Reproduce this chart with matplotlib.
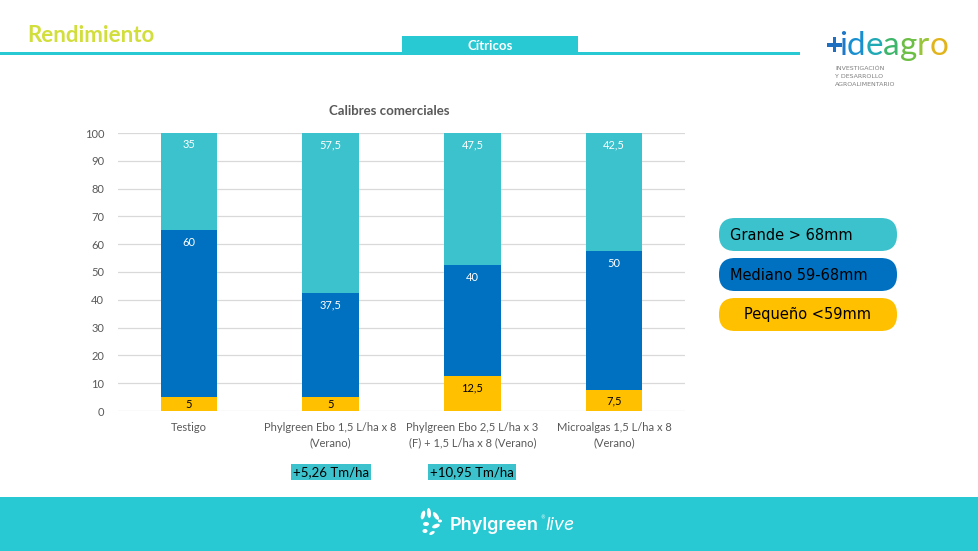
import matplotlib
matplotlib.use("Agg")
import matplotlib.pyplot as plt
from matplotlib.patches import FancyBboxPatch, Rectangle, Ellipse
import numpy as np

# ---- data ----
categories = ["Testigo",
              "Phylgreen Ebo 1,5 L/ha x 8\n(Verano)",
              "Phylgreen Ebo 2,5 L/ha x 3\n(F) + 1,5 L/ha x 8 (Verano)",
              "Microalgas 1,5 L/ha x 8\n(Verano)"]
pequeno = [5, 5, 12.5, 7.5]
mediano = [60, 37.5, 40, 50]
grande = [35, 57.5, 47.5, 42.5]
series_names = ["Grande > 68mm", "Mediano 59-68mm", "Pequeño <59mm"]
yticks = [0, 10, 20, 30, 40, 50, 60, 70, 80, 90, 100]
gains = ["", "+5,26 Tm/ha", "+10,95 Tm/ha", ""]

C_GRANDE = "#3BC2CC"
C_MEDIANO = "#0070C0"
C_PEQ = "#FFC000"
TEAL = "#29C9D3"
GRAY = "#595959"

W, H = 979, 551
fig = plt.figure(figsize=(W / 100, H / 100), dpi=100)
fig.patch.set_facecolor("white")

def fx(px):
    return px / W

def fy(py):
    return 1 - py / H

# overlay axes in pixel coordinates (for decoration)
ov = fig.add_axes([0, 0, 1, 1], zorder=0)
ov.set_xlim(0, W)
ov.set_ylim(H, 0)
ov.axis("off")

# ---- chart axes ----
ax = fig.add_axes([fx(118), fy(411), fx(685) - fx(118), fy(133) - fy(411)], zorder=2)
ax.patch.set_alpha(0)
x = np.arange(len(categories))
bw = 0.40
b1 = np.array(pequeno)
b2 = b1 + np.array(mediano)
ax.bar(x, pequeno, bw, color=C_PEQ, zorder=3)
ax.bar(x, mediano, bw, bottom=b1, color=C_MEDIANO, zorder=3)
ax.bar(x, grande, bw, bottom=b2, color=C_GRANDE, zorder=3)
ax.set_xlim(-0.5, len(categories) - 0.5)
ax.set_ylim(0, 100)
ax.set_yticks(yticks)
ax.set_yticklabels([str(t) for t in yticks], fontsize=8, color=GRAY, family="Lato")
ax.yaxis.grid(True, color="#D9D9D9", linewidth=0.9, zorder=0)
ax.tick_params(axis="both", length=0, pad=10)
for s in ax.spines.values():
    s.set_visible(False)
ax.set_xticks(x)
ax.set_xticklabels(categories, fontsize=8, color=GRAY, family="Lato", linespacing=1.5)
ax.tick_params(axis="x", pad=8)

def fmt(v):
    return ("%g" % v).replace(".", ",")

def lbl(bottoms, vals, color):
    for i, (b, v) in enumerate(zip(bottoms, vals)):
        top = b + v
        yy = max(top - 4.3, b + v / 2)
        ax.text(x[i], yy, fmt(v), ha="center", va="center", fontsize=8,
                color=color, family="Lato", zorder=4)

lbl(np.zeros(4), pequeno, "black")
lbl(b1, mediano, "white")
lbl(b2, grande, "white")

ov.text(389, 111, "Calibres comerciales", ha="center", va="center",
        fontsize=9.5, fontweight="bold", color=GRAY, family="Lato")

# gains boxes
for i, g in enumerate(gains):
    if g:
        ov.text(189 + 141.7 * i, 472, g, ha="center", va="center", fontsize=9.5,
                color="black", family="Lato",
                bbox=dict(boxstyle="square,pad=0.15", fc=C_GRANDE, ec="none"))

# ---- legend boxes ----
leg_colors = [C_GRANDE, C_MEDIANO, C_PEQ]
leg_y = [218, 258, 298]
for name, c, yy in zip(series_names, leg_colors, leg_y):
    bx = FancyBboxPatch((719, yy), 178, 33,
                        boxstyle="round,pad=0,rounding_size=16",
                        fc=c, ec="none")
    ov.add_patch(bx)
    if c == C_PEQ:
        ov.text(808, yy + 17, name, ha="center", va="center", fontsize=10.5,
                color="black", family="DejaVu Sans")
    else:
        ov.text(730, yy + 17, name, ha="left", va="center", fontsize=10.5,
                color="black", family="DejaVu Sans")

# ---- header ----
ov.text(27, 35, "Rendimiento", ha="left", va="center", fontsize=16,
        fontweight="bold", color="#D2DE3C", family="Lato")
ov.add_patch(Rectangle((0, 52), 800, 2.5, fc=TEAL, ec="none"))
ov.add_patch(Rectangle((402, 36), 176, 18.5, fc=TEAL, ec="none"))
ov.text(490, 46, "Cítricos", ha="center", va="center", fontsize=9.5,
        fontweight="bold", color="white", family="Lato")

# logo: plus sign drawn as shapes, then letters
ov.add_patch(Rectangle((827, 43), 15, 3.5, fc="#1F6FC0", ec="none"))
ov.add_patch(Rectangle((832.8, 37), 3.5, 15, fc="#1F6FC0", ec="none"))
letters = ["i", "d", "e", "a", "g", "r", "o"]
lcols = ["#1F78C8", "#1A8FD0", "#1FA9B5", "#3DB56A", "#6DBE45", "#98C53A", "#E2B41C"]
fig.canvas.draw()
renderer = fig.canvas.get_renderer()
cur = 839.0
for ch, lc in zip(letters, lcols):
    t = ov.text(cur, 55, ch, ha="left", va="baseline", fontsize=24, color=lc,
                family="Lato")
    bb = t.get_window_extent(renderer=renderer)
    cur += bb.width * 1.0
for k, t in enumerate(["INVESTIGACIÓN", "Y DESARROLLO", "AGROALIMENTARIO"]):
    ov.text(835, 68 + 8.5 * k, t, ha="left", va="center", fontsize=4.5,
            color="#7F7F7F", family="DejaVu Sans")

# ---- footer ----
ov.add_patch(Rectangle((0, 497), W, H - 497, fc=TEAL, ec="none"))
for (cx, cy, w, h, a) in [(423, 515, 4, 9, 15), (429, 513, 4, 10, -5), (436, 516, 4, 9, -35),
                          (426, 524, 6, 4, 0), (436, 526, 8, 4, -20), (425, 531, 5, 4, 0),
                          (432, 533, 6, 3, -30), (440, 521, 4, 3, 0)]:
    ov.add_patch(Ellipse((cx, cy), w, h, angle=a, fc="white", ec="none"))
ov.text(450, 525, "Phylgreen", ha="left", va="center", fontsize=13,
        color="white", family="Inter", fontweight="semibold")
ov.text(540, 518, "®", ha="left", va="center", fontsize=3.5, color="white",
        family="DejaVu Sans")
ov.text(545, 525, "live", ha="left", va="center", fontsize=13,
        color="white", family="Inter", style="italic")

fig.savefig("out.png", dpi=100)
